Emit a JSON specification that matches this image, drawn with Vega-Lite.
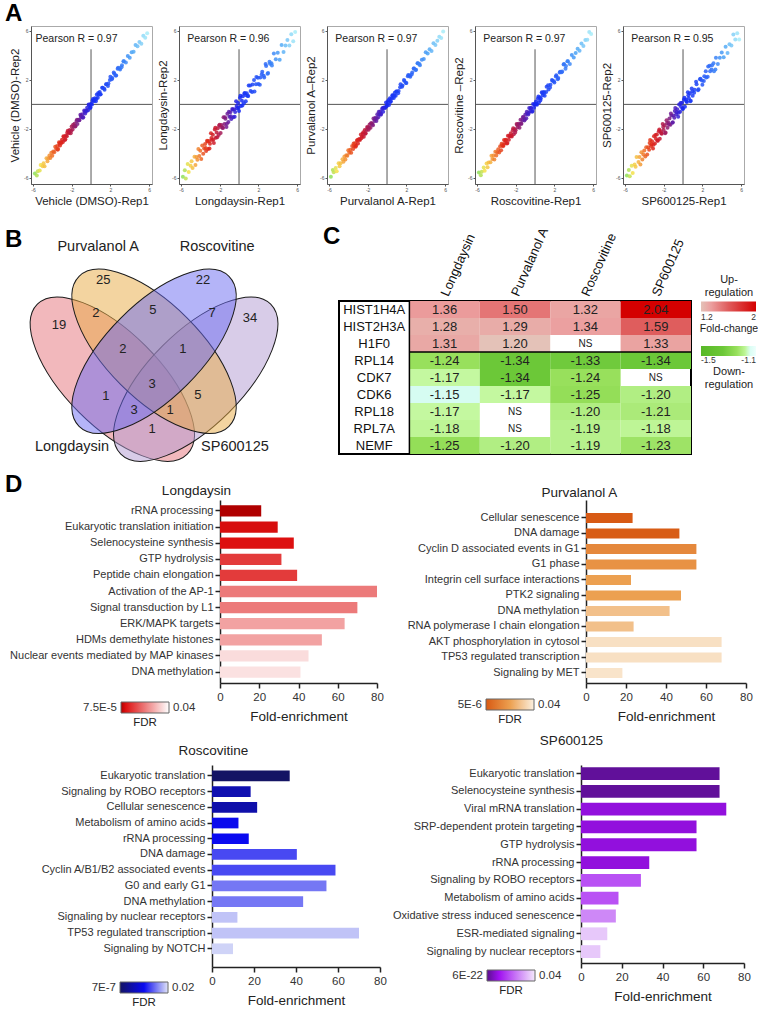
{
"$schema": "https://vega.github.io/schema/vega-lite/v6.json",
"padding": {"left": 5, "top": 1, "right": 0, "bottom": 0},
"background": "white",
"config": {
  "font": "Liberation Sans",
  "locale": {"number": {"decimal": ".", "thousands": ",", "grouping": [3], "currency": ["$", ""], "minus": "-"}},
  "view": {"stroke": null},
  "axis": {"grid": false, "titleFontWeight": "normal", "labelColor": "#333333", "titleColor": "#222222"},
  "title": {"fontWeight": "normal", "color": "#222222"},
  "legend": {"titleFontWeight": "normal", "labelColor": "#333333", "titleColor": "#222222"}
},
"datasets": {
  "scatter": [
{"x":-5.8,"a":-5.65,"b":-5.91,"c":-5.9,"d":-5.56,"e":-5.8},
{"x":-5.6,"a":-5.8,"b":-5.38,"c":-5.35,"d":-5.78,"e":-5.36},
{"x":-5.5,"a":-5.45,"b":-6.05,"c":-5.55,"d":-5.5,"e":-5.86},
{"x":-5.3,"a":-5.4,"b":-4.86,"c":-5.2,"d":-5.16,"e":-5.0},
{"x":-5.2,"a":-4.95,"b":-5.53,"c":-5.45,"d":-5.42,"e":-5.6},
{"x":-5.0,"a":-5.05,"b":-5.0,"c":-4.8,"d":-4.82,"e":-4.9},
{"x":-4.9,"a":-4.8,"b":-4.64,"c":-5.05,"d":-5.14,"e":-5.1},
{"x":-4.8,"a":-5.05,"b":-5.2,"c":-4.8,"d":-4.74,"e":-4.3},
{"x":-4.6,"a":-4.4,"b":-4.27,"c":-4.48,"d":-4.72,"e":-4.7},
{"x":-4.5,"a":-4.65,"b":-4.94,"c":-4.68,"d":-4.2,"e":-4.3},
{"x":-4.4,"a":-4.4,"b":-4.29,"c":-4.25,"d":-4.46,"e":-4.9},
{"x":-4.3,"a":-4.18,"b":-4.52,"c":-4.5,"d":-4.18,"e":-3.9},
{"x":-4.2,"a":-4.38,"b":-3.65,"c":-4.15,"d":-4.5,"e":-4.5},
{"x":-4.1,"a":-3.95,"b":-4.21,"c":-4.2,"d":-3.86,"e":-4.1},
{"x":-4.0,"a":-4.2,"b":-3.78,"c":-3.75,"d":-4.18,"e":-3.76},
{"x":-3.9,"a":-3.85,"b":-4.45,"c":-3.95,"d":-3.9,"e":-4.26},
{"x":-3.8,"a":-3.9,"b":-3.36,"c":-3.7,"d":-3.66,"e":-3.5},
{"x":-3.7,"a":-3.45,"b":-4.03,"c":-3.95,"d":-3.92,"e":-4.1},
{"x":-3.6,"a":-3.65,"b":-3.6,"c":-3.4,"d":-3.42,"e":-3.5},
{"x":-3.5,"a":-3.4,"b":-3.24,"c":-3.65,"d":-3.74,"e":-3.7},
{"x":-3.4,"a":-3.65,"b":-3.8,"c":-3.4,"d":-3.34,"e":-2.9},
{"x":-3.3,"a":-3.1,"b":-2.97,"c":-3.18,"d":-3.42,"e":-3.4},
{"x":-3.2,"a":-3.35,"b":-3.64,"c":-3.38,"d":-2.9,"e":-3.0},
{"x":-3.1,"a":-3.1,"b":-2.99,"c":-2.95,"d":-3.16,"e":-3.6},
{"x":-3.0,"a":-2.88,"b":-3.22,"c":-3.2,"d":-2.88,"e":-2.6},
{"x":-2.9,"a":-3.08,"b":-2.35,"c":-2.85,"d":-3.2,"e":-3.2},
{"x":-2.8,"a":-2.65,"b":-2.91,"c":-2.9,"d":-2.56,"e":-2.8},
{"x":-2.7,"a":-2.9,"b":-2.48,"c":-2.45,"d":-2.88,"e":-2.46},
{"x":-2.6,"a":-2.55,"b":-3.15,"c":-2.65,"d":-2.6,"e":-2.96},
{"x":-2.5,"a":-2.6,"b":-2.06,"c":-2.4,"d":-2.36,"e":-2.2},
{"x":-2.4,"a":-2.15,"b":-2.73,"c":-2.65,"d":-2.62,"e":-2.8},
{"x":-2.3,"a":-2.35,"b":-2.3,"c":-2.1,"d":-2.12,"e":-2.2},
{"x":-2.2,"a":-2.1,"b":-1.94,"c":-2.35,"d":-2.44,"e":-2.4},
{"x":-2.1,"a":-2.35,"b":-2.5,"c":-2.1,"d":-2.04,"e":-1.6},
{"x":-2.0,"a":-1.8,"b":-1.67,"c":-1.88,"d":-2.12,"e":-2.1},
{"x":-1.9,"a":-2.05,"b":-2.34,"c":-2.08,"d":-1.6,"e":-1.7},
{"x":-1.8,"a":-1.8,"b":-1.69,"c":-1.65,"d":-1.86,"e":-2.3},
{"x":-1.7,"a":-1.58,"b":-1.92,"c":-1.9,"d":-1.58,"e":-1.3},
{"x":-1.6,"a":-1.78,"b":-1.05,"c":-1.55,"d":-1.9,"e":-1.9},
{"x":-1.5,"a":-1.35,"b":-1.61,"c":-1.6,"d":-1.26,"e":-1.5},
{"x":-1.4,"a":-1.6,"b":-1.18,"c":-1.15,"d":-1.58,"e":-1.16},
{"x":-1.3,"a":-1.25,"b":-1.85,"c":-1.35,"d":-1.3,"e":-1.66},
{"x":-1.2,"a":-1.3,"b":-0.76,"c":-1.1,"d":-1.06,"e":-0.9},
{"x":-1.1,"a":-0.85,"b":-1.43,"c":-1.35,"d":-1.32,"e":-1.5},
{"x":-1.0,"a":-1.05,"b":-1.0,"c":-0.8,"d":-0.82,"e":-0.9},
{"x":-0.9,"a":-0.8,"b":-0.64,"c":-1.05,"d":-1.14,"e":-1.1},
{"x":-0.8,"a":-1.05,"b":-1.2,"c":-0.8,"d":-0.74,"e":-0.3},
{"x":-0.7,"a":-0.5,"b":-0.37,"c":-0.58,"d":-0.82,"e":-0.8},
{"x":-0.6,"a":-0.75,"b":-1.04,"c":-0.78,"d":-0.3,"e":-0.4},
{"x":-0.5,"a":-0.5,"b":-0.39,"c":-0.35,"d":-0.56,"e":-1.0},
{"x":-0.4,"a":-0.28,"b":-0.62,"c":-0.6,"d":-0.28,"e":0.0},
{"x":-0.3,"a":-0.48,"b":0.25,"c":-0.25,"d":-0.6,"e":-0.6},
{"x":-0.2,"a":-0.05,"b":-0.31,"c":-0.3,"d":0.04,"e":-0.2},
{"x":-0.1,"a":-0.3,"b":0.12,"c":0.15,"d":-0.28,"e":0.14},
{"x":0.0,"a":0.05,"b":-0.55,"c":-0.05,"d":0.0,"e":-0.36},
{"x":0.1,"a":0.0,"b":0.54,"c":0.2,"d":0.24,"e":0.4},
{"x":0.2,"a":0.45,"b":-0.13,"c":-0.05,"d":-0.02,"e":-0.2},
{"x":0.3,"a":0.25,"b":0.3,"c":0.5,"d":0.48,"e":0.4},
{"x":0.4,"a":0.5,"b":0.66,"c":0.25,"d":0.16,"e":0.2},
{"x":0.5,"a":0.25,"b":0.1,"c":0.5,"d":0.56,"e":1.0},
{"x":0.6,"a":0.8,"b":0.93,"c":0.72,"d":0.48,"e":0.5},
{"x":0.7,"a":0.55,"b":0.26,"c":0.52,"d":1.0,"e":0.9},
{"x":0.8,"a":0.8,"b":0.91,"c":0.95,"d":0.74,"e":0.3},
{"x":0.9,"a":1.02,"b":0.68,"c":0.7,"d":1.02,"e":1.3},
{"x":1.0,"a":0.82,"b":1.55,"c":1.05,"d":0.7,"e":0.7},
{"x":1.2,"a":1.35,"b":1.09,"c":1.1,"d":1.44,"e":1.2},
{"x":1.4,"a":1.2,"b":1.62,"c":1.65,"d":1.22,"e":1.64},
{"x":1.6,"a":1.65,"b":1.05,"c":1.55,"d":1.6,"e":1.24},
{"x":1.8,"a":1.7,"b":2.24,"c":1.9,"d":1.94,"e":2.1},
{"x":2.0,"a":2.25,"b":1.67,"c":1.75,"d":1.78,"e":1.6},
{"x":2.2,"a":2.15,"b":2.2,"c":2.4,"d":2.38,"e":2.3},
{"x":2.4,"a":2.5,"b":2.66,"c":2.25,"d":2.16,"e":2.2},
{"x":2.6,"a":2.35,"b":2.2,"c":2.6,"d":2.66,"e":3.1},
{"x":2.8,"a":3.0,"b":3.13,"c":2.92,"d":2.68,"e":2.7},
{"x":3.0,"a":2.85,"b":2.56,"c":2.82,"d":3.3,"e":3.2},
{"x":3.2,"a":3.2,"b":3.31,"c":3.35,"d":3.14,"e":2.7},
{"x":3.4,"a":3.52,"b":3.18,"c":3.2,"d":3.52,"e":3.8},
{"x":3.6,"a":3.42,"b":4.15,"c":3.65,"d":3.3,"e":3.3},
{"x":3.8,"a":3.95,"b":3.69,"c":3.7,"d":4.04,"e":3.8},
{"x":4.0,"a":3.8,"b":4.22,"c":4.25,"d":3.82,"e":4.24},
{"x":4.2,"a":4.25,"b":3.65,"c":4.15,"d":4.2,"e":3.84},
{"x":4.4,"a":4.3,"b":4.84,"c":4.5,"d":4.54,"e":4.7},
{"x":4.6,"a":4.85,"b":4.27,"c":4.35,"d":4.38,"e":4.2},
{"x":4.8,"a":4.75,"b":4.8,"c":5.0,"d":4.98,"e":4.9},
{"x":5.0,"a":5.1,"b":5.26,"c":4.85,"d":4.76,"e":4.8},
{"x":5.2,"a":4.95,"b":4.8,"c":5.2,"d":5.26,"e":5.7},
{"x":5.4,"a":5.6,"b":5.73,"c":5.52,"d":5.28,"e":5.3},
{"x":5.6,"a":5.45,"b":5.16,"c":5.42,"d":5.9,"e":5.8},
{"x":5.8,"a":5.8,"b":5.91,"c":5.95,"d":5.74,"e":5.3},
{"x":-3.45,"a":-3.7,"b":-3.56,"c":-3.2,"d":-3.21,"e":-3.15},
{"x":-3.25,"a":-3.2,"b":-3.03,"c":-3.45,"d":-3.31,"e":-3.25},
{"x":-3.05,"a":-3.15,"b":-3.6,"c":-2.9,"d":-2.93,"e":-3.29},
{"x":-2.85,"a":-2.6,"b":-2.74,"c":-2.85,"d":-3.15,"e":-2.49},
{"x":-2.65,"a":-2.85,"b":-2.87,"c":-2.77,"d":-2.59,"e":-2.95},
{"x":-2.45,"a":-2.3,"b":-1.9,"c":-2.27,"d":-2.57,"e":-2.05},
{"x":-2.25,"a":-2.25,"b":-2.69,"c":-2.4,"d":-1.95,"e":-2.35},
{"x":-2.05,"a":-2.17,"b":-1.72,"c":-1.85,"d":-2.29,"e":-1.85},
{"x":-1.85,"a":-1.67,"b":-1.85,"c":-1.9,"d":-1.67,"e":-2.35},
{"x":-1.65,"a":-1.8,"b":-1.91,"c":-1.55,"d":-1.65,"e":-1.55},
{"x":-1.45,"a":-1.25,"b":-1.05,"c":-1.7,"d":-1.59,"e":-1.65},
{"x":-1.25,"a":-1.3,"b":-1.58,"c":-1.2,"d":-1.03,"e":-0.75},
{"x":-1.05,"a":-0.95,"b":-0.61,"c":-1.15,"d":-1.23,"e":-1.45},
{"x":-0.85,"a":-1.1,"b":-0.96,"c":-0.6,"d":-0.61,"e":-0.55},
{"x":-0.65,"a":-0.6,"b":-0.43,"c":-0.85,"d":-0.71,"e":-0.65},
{"x":-0.45,"a":-0.55,"b":-1.0,"c":-0.3,"d":-0.33,"e":-0.69},
{"x":-0.25,"a":0.0,"b":-0.14,"c":-0.25,"d":-0.55,"e":0.11},
{"x":-0.05,"a":-0.25,"b":-0.27,"c":-0.17,"d":0.01,"e":-0.35},
{"x":0.15,"a":0.3,"b":0.7,"c":0.33,"d":0.03,"e":0.55},
{"x":0.35,"a":0.35,"b":-0.09,"c":0.2,"d":0.65,"e":0.25},
{"x":0.55,"a":0.43,"b":0.88,"c":0.75,"d":0.31,"e":0.75},
{"x":0.75,"a":0.93,"b":0.75,"c":0.7,"d":0.93,"e":0.25},
{"x":0.95,"a":0.8,"b":0.69,"c":1.05,"d":0.95,"e":1.05},
{"x":1.15,"a":1.35,"b":1.55,"c":0.9,"d":1.01,"e":0.95},
{"x":1.35,"a":1.3,"b":1.02,"c":1.4,"d":1.57,"e":1.85},
{"x":1.55,"a":1.65,"b":1.99,"c":1.45,"d":1.37,"e":1.15},
{"x":1.75,"a":1.5,"b":1.64,"c":2.0,"d":1.99,"e":2.05},
{"x":1.95,"a":2.0,"b":2.17,"c":1.75,"d":1.89,"e":1.95},
{"x":2.15,"a":2.05,"b":1.6,"c":2.3,"d":2.27,"e":1.91},
{"x":2.35,"a":2.6,"b":2.46,"c":2.35,"d":2.05,"e":2.71},
{"x":2.55,"a":2.35,"b":2.33,"c":2.43,"d":2.61,"e":2.25},
{"x":2.75,"a":2.9,"b":3.3,"c":2.93,"d":2.63,"e":3.15},
{"x":2.95,"a":2.95,"b":2.51,"c":2.8,"d":3.25,"e":2.85},
{"x":3.15,"a":3.03,"b":3.48,"c":3.35,"d":2.91,"e":3.35},
{"x":3.35,"a":3.53,"b":3.35,"c":3.3,"d":3.53,"e":2.85}
  ],
  "heat": [
{"gene":"HIST1H4A","cond":"Longdaysin","fc":1.36},{"gene":"HIST1H4A","cond":"Purvalanol A","fc":1.50},{"gene":"HIST1H4A","cond":"Roscovitine","fc":1.32},{"gene":"HIST1H4A","cond":"SP600125","fc":2.04},
{"gene":"HIST2H3A","cond":"Longdaysin","fc":1.28},{"gene":"HIST2H3A","cond":"Purvalanol A","fc":1.29},{"gene":"HIST2H3A","cond":"Roscovitine","fc":1.34},{"gene":"HIST2H3A","cond":"SP600125","fc":1.59},
{"gene":"H1F0","cond":"Longdaysin","fc":1.31},{"gene":"H1F0","cond":"Purvalanol A","fc":1.20},{"gene":"H1F0","cond":"Roscovitine","fc":null},{"gene":"H1F0","cond":"SP600125","fc":1.33},
{"gene":"RPL14","cond":"Longdaysin","fc":-1.24},{"gene":"RPL14","cond":"Purvalanol A","fc":-1.34},{"gene":"RPL14","cond":"Roscovitine","fc":-1.33},{"gene":"RPL14","cond":"SP600125","fc":-1.34},
{"gene":"CDK7","cond":"Longdaysin","fc":-1.17},{"gene":"CDK7","cond":"Purvalanol A","fc":-1.34},{"gene":"CDK7","cond":"Roscovitine","fc":-1.24},{"gene":"CDK7","cond":"SP600125","fc":null},
{"gene":"CDK6","cond":"Longdaysin","fc":-1.15},{"gene":"CDK6","cond":"Purvalanol A","fc":-1.17},{"gene":"CDK6","cond":"Roscovitine","fc":-1.25},{"gene":"CDK6","cond":"SP600125","fc":-1.20},
{"gene":"RPL18","cond":"Longdaysin","fc":-1.17},{"gene":"RPL18","cond":"Purvalanol A","fc":null},{"gene":"RPL18","cond":"Roscovitine","fc":-1.20},{"gene":"RPL18","cond":"SP600125","fc":-1.21},
{"gene":"RPL7A","cond":"Longdaysin","fc":-1.18},{"gene":"RPL7A","cond":"Purvalanol A","fc":null},{"gene":"RPL7A","cond":"Roscovitine","fc":-1.19},{"gene":"RPL7A","cond":"SP600125","fc":-1.18},
{"gene":"NEMF","cond":"Longdaysin","fc":-1.25},{"gene":"NEMF","cond":"Purvalanol A","fc":-1.20},{"gene":"NEMF","cond":"Roscovitine","fc":-1.19},{"gene":"NEMF","cond":"SP600125","fc":-1.23}
  ],
  "genes": [{"gene":"HIST1H4A"},{"gene":"HIST2H3A"},{"gene":"H1F0"},{"gene":"RPL14"},{"gene":"CDK7"},{"gene":"CDK6"},{"gene":"RPL18"},{"gene":"RPL7A"},{"gene":"NEMF"}],
  "venn_sets": [
{"set":"Longdaysin","u":0.35,"v":0.47},
{"set":"Purvalanol A","u":0.5,"v":0.57},
{"set":"Roscovitine","u":0.5,"v":0.57},
{"set":"SP600125","u":0.65,"v":0.47}
  ],
  "venn_counts": [
{"n":25,"u":0.317,"v":0.826},{"n":22,"u":0.676,"v":0.826},{"n":19,"u":0.158,"v":0.664},{"n":34,"u":0.845,"v":0.690},
{"n":2,"u":0.291,"v":0.708},{"n":5,"u":0.496,"v":0.718},{"n":7,"u":0.709,"v":0.708},
{"n":2,"u":0.388,"v":0.578},{"n":1,"u":0.604,"v":0.578},{"n":3,"u":0.493,"v":0.452},
{"n":1,"u":0.327,"v":0.409},{"n":5,"u":0.658,"v":0.413},{"n":3,"u":0.428,"v":0.359},
{"n":1,"u":0.558,"v":0.359},{"n":1,"u":0.493,"v":0.290}
  ],
  "venn_labels": [
{"set":"Purvalanol A","u":0.299,"v":0.945},{"set":"Roscovitine","u":0.727,"v":0.945},
{"set":"Longdaysin","u":0.205,"v":0.225},{"set":"SP600125","u":0.791,"v":0.225}
  ],
  "bars": [
{"drug":"Longdaysin","term":"rRNA processing","fe":21,"fdr":0.000075},
{"drug":"Longdaysin","term":"Eukaryotic translation initiation","fe":29.4,"fdr":0.0035},
{"drug":"Longdaysin","term":"Selenocysteine synthesis","fe":37.6,"fdr":0.004},
{"drug":"Longdaysin","term":"GTP hydrolysis","fe":31.3,"fdr":0.0105},
{"drug":"Longdaysin","term":"Peptide chain elongation","fe":39.3,"fdr":0.0105},
{"drug":"Longdaysin","term":"Activation of the AP-1","fe":80,"fdr":0.0199},
{"drug":"Longdaysin","term":"Signal transduction by L1","fe":70,"fdr":0.0199},
{"drug":"Longdaysin","term":"ERK/MAPK targets","fe":63.5,"fdr":0.026},
{"drug":"Longdaysin","term":"HDMs demethylate histones","fe":51.9,"fdr":0.026},
{"drug":"Longdaysin","term":"Nuclear events mediated by MAP kinases","fe":45.1,"fdr":0.0347},
{"drug":"Longdaysin","term":"DNA methylation","fe":41,"fdr":0.0355},
{"drug":"Purvalanol A","term":"Cellular senescence","fe":23.3,"fdr":0.000005},
{"drug":"Purvalanol A","term":"DNA damage","fe":46.7,"fdr":0.0005},
{"drug":"Purvalanol A","term":"Cyclin D associated events in G1","fe":55.2,"fdr":0.0132},
{"drug":"Purvalanol A","term":"G1 phase","fe":55.2,"fdr":0.016},
{"drug":"Purvalanol A","term":"Integrin cell surface interactions","fe":22.5,"fdr":0.02},
{"drug":"Purvalanol A","term":"PTK2 signaling","fe":47.5,"fdr":0.02},
{"drug":"Purvalanol A","term":"DNA methylation","fe":41.8,"fdr":0.028},
{"drug":"Purvalanol A","term":"RNA polymerase I chain elongation","fe":23.8,"fdr":0.028},
{"drug":"Purvalanol A","term":"AKT phosphorylation in cytosol","fe":67.8,"fdr":0.036},
{"drug":"Purvalanol A","term":"TP53 regulated transcription","fe":67.8,"fdr":0.036},
{"drug":"Purvalanol A","term":"Signaling by MET","fe":18.2,"fdr":0.037},
{"drug":"Roscovitine","term":"Eukaryotic translation","fe":37,"fdr":0.0000007},
{"drug":"Roscovitine","term":"Signaling by ROBO receptors","fe":18.4,"fdr":0.0054},
{"drug":"Roscovitine","term":"Cellular senescence","fe":21.5,"fdr":0.005},
{"drug":"Roscovitine","term":"Metabolism of amino acids","fe":12.6,"fdr":0.0098},
{"drug":"Roscovitine","term":"rRNA processing","fe":17.5,"fdr":0.01},
{"drug":"Roscovitine","term":"DNA damage","fe":40.4,"fdr":0.0129},
{"drug":"Roscovitine","term":"Cyclin A/B1/B2 associated events","fe":58.8,"fdr":0.0129},
{"drug":"Roscovitine","term":"G0 and early G1","fe":54.5,"fdr":0.015},
{"drug":"Roscovitine","term":"DNA methylation","fe":43.4,"fdr":0.015},
{"drug":"Roscovitine","term":"Signaling by nuclear receptors","fe":12.1,"fdr":0.0185},
{"drug":"Roscovitine","term":"TP53 regulated transcription","fe":70,"fdr":0.0185},
{"drug":"Roscovitine","term":"Signaling by NOTCH","fe":10,"fdr":0.0192},
{"drug":"SP600125","term":"Eukaryotic translation","fe":68,"fdr":0.001},
{"drug":"SP600125","term":"Selenocysteine synthesis","fe":68,"fdr":0.001},
{"drug":"SP600125","term":"Viral mRNA translation","fe":71.3,"fdr":0.008},
{"drug":"SP600125","term":"SRP-dependent protein targeting","fe":56.7,"fdr":0.008},
{"drug":"SP600125","term":"GTP hydrolysis","fe":56.7,"fdr":0.008},
{"drug":"SP600125","term":"rRNA processing","fe":33.5,"fdr":0.008},
{"drug":"SP600125","term":"Signaling by ROBO receptors","fe":29.4,"fdr":0.019},
{"drug":"SP600125","term":"Metabolism of amino acids","fe":18.4,"fdr":0.019},
{"drug":"SP600125","term":"Oxidative stress induced senescence","fe":17.1,"fdr":0.0266},
{"drug":"SP600125","term":"ESR-mediated signaling","fe":12.9,"fdr":0.0355},
{"drug":"SP600125","term":"Signaling by nuclear receptors","fe":9.5,"fdr":0.0355}
  ]
},
"columns": 1,
"spacing": 17,
"align": "none",
"resolve": {"scale": {"color": "independent"}},
"concat": [
{
  "title": {"text": "A", "anchor": "start", "fontSize": 24, "fontWeight": "bold", "color": "#000000", "offset": 0},
  "spacing": 0,
  "align": "none",
  "resolve": {"scale": {"color": "independent"}},
  "concat": [
    {"width": 4, "height": 1, "data": {"values": []}, "mark": {"type": "point"}},
    {
    "spacing": 4,
    "align": "none",
    "resolve": {"scale": {"color": "independent"}},
    "concat": [
    {"width": 121, "height": 158, "view": {"stroke": "#aaaaaa"}, "data": {"name": "scatter"},
     "layer": [
      {"data": {"values": [{}]}, "mark": {"type": "rule", "color": "#555555", "strokeWidth": 1}, "encoding": {"y": {"datum": 0, "type": "quantitative"}}},
      {"data": {"values": [{}]}, "mark": {"type": "rule", "color": "#555555", "strokeWidth": 1}, "encoding": {"x": {"datum": 0, "type": "quantitative"}, "y": {"datum": 4.5, "type": "quantitative"}, "y2": {"datum": -6.5}}},
      {"mark": {"type": "circle", "size": 16, "opacity": 0.85},
       "encoding": {
        "x": {"field": "x", "type": "quantitative", "scale": {"domain": [-6.2, 6.3], "nice": false, "zero": false}, "axis": {"title": "Vehicle (DMSO)-Rep1", "values": [-6,-4,-2,0,2,4,6], "labelFontSize": 5, "tickSize": 2, "labelPadding": 1, "titlePadding": 3, "titleFontSize": 11.5, "domainColor": "#555555", "tickColor": "#555555", "labelColor": "#555555", "labelFlush": false}},
        "y": {"field": "a", "type": "quantitative", "scale": {"domain": [-6.5, 6.4], "nice": false, "zero": false}, "axis": {"title": "Vehicle (DMSO)-Rep2", "values": [-6,-4,-2,0,2,4,6], "labelFontSize": 5, "tickSize": 2, "labelPadding": 1, "titlePadding": 3, "titleFontSize": 11.5, "domainColor": "#555555", "tickColor": "#555555", "labelColor": "#555555", "labelFlush": false}},
        "color": {"field": "x", "type": "quantitative", "scale": {"domain": [-5.8,-5.2,-4.6,-4.0,-3.2,-2.4,-1.6,-0.8,0,2.5,4.2,5.8], "range": ["#8fe05a","#f5e04a","#f5b040","#ee7028","#e02818","#c81830","#8e1c70","#4a1cc0","#1428f4","#2a62f8","#4aa2f6","#a8ecf8"], "interpolate": "rgb"}, "legend": null}}},
      {"data": {"values": [{}]}, "mark": {"type": "text", "fontSize": 10.5, "color": "#222222"}, "encoding": {"x": {"datum": -1.5, "type": "quantitative"}, "y": {"datum": 5.3, "type": "quantitative"}, "text": {"value": "Pearson R = 0.97"}}}
     ]},
    {"width": 121, "height": 158, "view": {"stroke": "#aaaaaa"}, "data": {"name": "scatter"},
     "layer": [
      {"data": {"values": [{}]}, "mark": {"type": "rule", "color": "#555555", "strokeWidth": 1}, "encoding": {"y": {"datum": 0, "type": "quantitative"}}},
      {"data": {"values": [{}]}, "mark": {"type": "rule", "color": "#555555", "strokeWidth": 1}, "encoding": {"x": {"datum": 0, "type": "quantitative"}, "y": {"datum": 4.5, "type": "quantitative"}, "y2": {"datum": -6.5}}},
      {"mark": {"type": "circle", "size": 16, "opacity": 0.85},
       "encoding": {
        "x": {"field": "x", "type": "quantitative", "scale": {"domain": [-6.2, 6.3], "nice": false, "zero": false}, "axis": {"title": "Longdaysin-Rep1", "values": [-6,-4,-2,0,2,4,6], "labelFontSize": 5, "tickSize": 2, "labelPadding": 1, "titlePadding": 3, "titleFontSize": 11.5, "domainColor": "#555555", "tickColor": "#555555", "labelColor": "#555555", "labelFlush": false}},
        "y": {"field": "b", "type": "quantitative", "scale": {"domain": [-6.5, 6.4], "nice": false, "zero": false}, "axis": {"title": "Longdaysin-Rep2", "values": [-6,-4,-2,0,2,4,6], "labelFontSize": 5, "tickSize": 2, "labelPadding": 1, "titlePadding": 3, "titleFontSize": 11.5, "domainColor": "#555555", "tickColor": "#555555", "labelColor": "#555555", "labelFlush": false}},
        "color": {"field": "x", "type": "quantitative", "scale": {"domain": [-5.8,-5.2,-4.6,-4.0,-3.2,-2.4,-1.6,-0.8,0,2.5,4.2,5.8], "range": ["#8fe05a","#f5e04a","#f5b040","#ee7028","#e02818","#c81830","#8e1c70","#4a1cc0","#1428f4","#2a62f8","#4aa2f6","#a8ecf8"], "interpolate": "rgb"}, "legend": null}}},
      {"data": {"values": [{}]}, "mark": {"type": "text", "fontSize": 10.5, "color": "#222222"}, "encoding": {"x": {"datum": -1.1, "type": "quantitative"}, "y": {"datum": 5.3, "type": "quantitative"}, "text": {"value": "Pearson R = 0.96"}}}
     ]},
    {"width": 121, "height": 158, "view": {"stroke": "#aaaaaa"}, "data": {"name": "scatter"},
     "layer": [
      {"data": {"values": [{}]}, "mark": {"type": "rule", "color": "#555555", "strokeWidth": 1}, "encoding": {"y": {"datum": 0, "type": "quantitative"}}},
      {"data": {"values": [{}]}, "mark": {"type": "rule", "color": "#555555", "strokeWidth": 1}, "encoding": {"x": {"datum": 0, "type": "quantitative"}, "y": {"datum": 4.5, "type": "quantitative"}, "y2": {"datum": -6.5}}},
      {"mark": {"type": "circle", "size": 16, "opacity": 0.85},
       "encoding": {
        "x": {"field": "x", "type": "quantitative", "scale": {"domain": [-6.2, 6.3], "nice": false, "zero": false}, "axis": {"title": "Purvalanol A-Rep1", "values": [-6,-4,-2,0,2,4,6], "labelFontSize": 5, "tickSize": 2, "labelPadding": 1, "titlePadding": 3, "titleFontSize": 11.5, "domainColor": "#555555", "tickColor": "#555555", "labelColor": "#555555", "labelFlush": false}},
        "y": {"field": "c", "type": "quantitative", "scale": {"domain": [-6.5, 6.4], "nice": false, "zero": false}, "axis": {"title": "Purvalanol A–Rep2", "values": [-6,-4,-2,0,2,4,6], "labelFontSize": 5, "tickSize": 2, "labelPadding": 1, "titlePadding": 3, "titleFontSize": 11.5, "domainColor": "#555555", "tickColor": "#555555", "labelColor": "#555555", "labelFlush": false}},
        "color": {"field": "x", "type": "quantitative", "scale": {"domain": [-5.8,-5.2,-4.6,-4.0,-3.2,-2.4,-1.6,-0.8,0,2.5,4.2,5.8], "range": ["#8fe05a","#f5e04a","#f5b040","#ee7028","#e02818","#c81830","#8e1c70","#4a1cc0","#1428f4","#2a62f8","#4aa2f6","#a8ecf8"], "interpolate": "rgb"}, "legend": null}}},
      {"data": {"values": [{}]}, "mark": {"type": "text", "fontSize": 10.5, "color": "#222222"}, "encoding": {"x": {"datum": -1.1, "type": "quantitative"}, "y": {"datum": 5.3, "type": "quantitative"}, "text": {"value": "Pearson R = 0.97"}}}
     ]},
    {"width": 121, "height": 158, "view": {"stroke": "#aaaaaa"}, "data": {"name": "scatter"},
     "layer": [
      {"data": {"values": [{}]}, "mark": {"type": "rule", "color": "#555555", "strokeWidth": 1}, "encoding": {"y": {"datum": 0, "type": "quantitative"}}},
      {"data": {"values": [{}]}, "mark": {"type": "rule", "color": "#555555", "strokeWidth": 1}, "encoding": {"x": {"datum": 0, "type": "quantitative"}, "y": {"datum": 4.5, "type": "quantitative"}, "y2": {"datum": -6.5}}},
      {"mark": {"type": "circle", "size": 16, "opacity": 0.85},
       "encoding": {
        "x": {"field": "x", "type": "quantitative", "scale": {"domain": [-6.2, 6.3], "nice": false, "zero": false}, "axis": {"title": "Roscovitine-Rep1", "values": [-6,-4,-2,0,2,4,6], "labelFontSize": 5, "tickSize": 2, "labelPadding": 1, "titlePadding": 3, "titleFontSize": 11.5, "domainColor": "#555555", "tickColor": "#555555", "labelColor": "#555555", "labelFlush": false}},
        "y": {"field": "d", "type": "quantitative", "scale": {"domain": [-6.5, 6.4], "nice": false, "zero": false}, "axis": {"title": "Roscovitine –Rep2", "values": [-6,-4,-2,0,2,4,6], "labelFontSize": 5, "tickSize": 2, "labelPadding": 1, "titlePadding": 3, "titleFontSize": 11.5, "domainColor": "#555555", "tickColor": "#555555", "labelColor": "#555555", "labelFlush": false}},
        "color": {"field": "x", "type": "quantitative", "scale": {"domain": [-5.8,-5.2,-4.6,-4.0,-3.2,-2.4,-1.6,-0.8,0,2.5,4.2,5.8], "range": ["#8fe05a","#f5e04a","#f5b040","#ee7028","#e02818","#c81830","#8e1c70","#4a1cc0","#1428f4","#2a62f8","#4aa2f6","#a8ecf8"], "interpolate": "rgb"}, "legend": null}}},
      {"data": {"values": [{}]}, "mark": {"type": "text", "fontSize": 10.5, "color": "#222222"}, "encoding": {"x": {"datum": -1.1, "type": "quantitative"}, "y": {"datum": 5.3, "type": "quantitative"}, "text": {"value": "Pearson R = 0.97"}}}
     ]},
    {"width": 121, "height": 158, "view": {"stroke": "#aaaaaa"}, "data": {"name": "scatter"},
     "layer": [
      {"data": {"values": [{}]}, "mark": {"type": "rule", "color": "#555555", "strokeWidth": 1}, "encoding": {"y": {"datum": 0, "type": "quantitative"}}},
      {"data": {"values": [{}]}, "mark": {"type": "rule", "color": "#555555", "strokeWidth": 1}, "encoding": {"x": {"datum": 0, "type": "quantitative"}, "y": {"datum": 4.5, "type": "quantitative"}, "y2": {"datum": -6.5}}},
      {"mark": {"type": "circle", "size": 16, "opacity": 0.85},
       "encoding": {
        "x": {"field": "x", "type": "quantitative", "scale": {"domain": [-6.2, 6.3], "nice": false, "zero": false}, "axis": {"title": "SP600125-Rep1", "values": [-6,-4,-2,0,2,4,6], "labelFontSize": 5, "tickSize": 2, "labelPadding": 1, "titlePadding": 3, "titleFontSize": 11.5, "domainColor": "#555555", "tickColor": "#555555", "labelColor": "#555555", "labelFlush": false}},
        "y": {"field": "e", "type": "quantitative", "scale": {"domain": [-6.5, 6.4], "nice": false, "zero": false}, "axis": {"title": "SP600125-Rep2", "values": [-6,-4,-2,0,2,4,6], "labelFontSize": 5, "tickSize": 2, "labelPadding": 1, "titlePadding": 3, "titleFontSize": 11.5, "domainColor": "#555555", "tickColor": "#555555", "labelColor": "#555555", "labelFlush": false}},
        "color": {"field": "x", "type": "quantitative", "scale": {"domain": [-5.8,-5.2,-4.6,-4.0,-3.2,-2.4,-1.6,-0.8,0,2.5,4.2,5.8], "range": ["#8fe05a","#f5e04a","#f5b040","#ee7028","#e02818","#c81830","#8e1c70","#4a1cc0","#1428f4","#2a62f8","#4aa2f6","#a8ecf8"], "interpolate": "rgb"}, "legend": null}}},
      {"data": {"values": [{}]}, "mark": {"type": "text", "fontSize": 10.5, "color": "#222222"}, "encoding": {"x": {"datum": -1.1, "type": "quantitative"}, "y": {"datum": 5.3, "type": "quantitative"}, "text": {"value": "Pearson R = 0.95"}}}
     ]}
    ]
    }
  ]
},
{
  "columns": 1,
  "spacing": 8,
  "align": "none",
  "resolve": {"scale": {"color": "independent"}},
  "concat": [
    {
      "spacing": 22,
      "align": "none",
      "resolve": {"scale": {"color": "independent"}},
      "concat": [
        {
          "width": 295, "height": 161,
          "title": {"text": "B", "anchor": "start", "fontSize": 24, "fontWeight": "bold", "color": "#000000", "offset": -13},
          "encoding": {
            "x": {"field": "u", "type": "quantitative", "scale": {"domain": [-0.036, 1.025], "nice": false, "zero": false}, "axis": null},
            "y": {"field": "v", "type": "quantitative", "scale": {"domain": [0.172, 0.751], "nice": false, "zero": false}, "axis": null}
          },
          "layer": [
            {"data": {"name": "venn_sets"}, "transform": [{"filter": "datum.set == 'Longdaysin'"}],
             "mark": {"type": "point", "shape": "M0,-1 C0.2449,-1 0.4434,-0.5523 0.4434,0 C0.4434,0.5523 0.2449,1 0,1 C-0.2449,1 -0.4434,0.5523 -0.4434,0 C-0.4434,-0.5523 -0.2449,-1 0,-1 Z", "size": 44944, "filled": true, "opacity": 1, "fillOpacity": 0.5, "stroke": "#1a1a1a", "strokeWidth": 1, "strokeOpacity": 1, "angle": -45},
             "encoding": {"color": {"field": "set", "type": "nominal", "scale": {"domain": ["Longdaysin","Purvalanol A","Roscovitine","SP600125"], "range": ["#e57179","#e7a941","#6969f1","#b199d1"]}, "legend": null}}},
            {"data": {"name": "venn_sets"}, "transform": [{"filter": "datum.set == 'SP600125'"}],
             "mark": {"type": "point", "shape": "M0,-1 C0.2449,-1 0.4434,-0.5523 0.4434,0 C0.4434,0.5523 0.2449,1 0,1 C-0.2449,1 -0.4434,0.5523 -0.4434,0 C-0.4434,-0.5523 -0.2449,-1 0,-1 Z", "size": 44944, "filled": true, "opacity": 1, "fillOpacity": 0.5, "stroke": "#1a1a1a", "strokeWidth": 1, "strokeOpacity": 1, "angle": 45},
             "encoding": {"color": {"field": "set", "type": "nominal", "scale": {"domain": ["Longdaysin","Purvalanol A","Roscovitine","SP600125"], "range": ["#e57179","#e7a941","#6969f1","#b199d1"]}, "legend": null}}},
            {"data": {"name": "venn_sets"}, "transform": [{"filter": "datum.set == 'Purvalanol A'"}],
             "mark": {"type": "point", "shape": "M0,-1 C0.2449,-1 0.4434,-0.5523 0.4434,0 C0.4434,0.5523 0.2449,1 0,1 C-0.2449,1 -0.4434,0.5523 -0.4434,0 C-0.4434,-0.5523 -0.2449,-1 0,-1 Z", "size": 44944, "filled": true, "opacity": 1, "fillOpacity": 0.5, "stroke": "#1a1a1a", "strokeWidth": 1, "strokeOpacity": 1, "angle": -45},
             "encoding": {"color": {"field": "set", "type": "nominal", "scale": {"domain": ["Longdaysin","Purvalanol A","Roscovitine","SP600125"], "range": ["#e57179","#e7a941","#6969f1","#b199d1"]}, "legend": null}}},
            {"data": {"name": "venn_sets"}, "transform": [{"filter": "datum.set == 'Roscovitine'"}],
             "mark": {"type": "point", "shape": "M0,-1 C0.2449,-1 0.4434,-0.5523 0.4434,0 C0.4434,0.5523 0.2449,1 0,1 C-0.2449,1 -0.4434,0.5523 -0.4434,0 C-0.4434,-0.5523 -0.2449,-1 0,-1 Z", "size": 44944, "filled": true, "opacity": 1, "fillOpacity": 0.5, "stroke": "#1a1a1a", "strokeWidth": 1, "strokeOpacity": 1, "angle": 45},
             "encoding": {"color": {"field": "set", "type": "nominal", "scale": {"domain": ["Longdaysin","Purvalanol A","Roscovitine","SP600125"], "range": ["#e57179","#e7a941","#6969f1","#b199d1"]}, "legend": null}}},
            {"data": {"name": "venn_counts"}, "mark": {"type": "text", "fontSize": 13, "color": "#222222"}, "encoding": {"text": {"field": "n", "type": "quantitative"}}},
            {"data": {"name": "venn_labels"}, "mark": {"type": "text", "fontSize": 14.5, "color": "#222222"}, "encoding": {"text": {"field": "set", "type": "nominal"}}}
          ]
        },
        {
          "width": 352, "height": 153,
          "title": {"text": "C", "anchor": "start", "fontSize": 24, "fontWeight": "bold", "color": "#000000", "offset": -24, "dx": -16},
          "view": {"stroke": "#000000", "strokeWidth": 2},
          "data": {"name": "heat"},
          "layer": [
            {"transform": [{"filter": "datum.fc > 0"}], "mark": {"type": "rect"},
             "encoding": {
               "x": {"field": "cond", "type": "nominal", "scale": {"domain": ["Gene","Longdaysin","Purvalanol A","Roscovitine","SP600125"], "paddingInner": 0, "paddingOuter": 0}, "axis": {"orient": "top", "title": null, "labelAngle": -66, "labelAlign": "left", "labelBaseline": "middle", "labelFontSize": 13, "labelPadding": 6, "ticks": false, "domain": false, "labelColor": "#111111", "labelExpr": "datum.value == 'Gene' ? '' : datum.value"}},
               "y": {"field": "gene", "type": "nominal", "scale": {"domain": ["HIST1H4A","HIST2H3A","H1F0","RPL14","CDK7","CDK6","RPL18","RPL7A","NEMF"], "paddingInner": 0, "paddingOuter": 0}, "axis": null},
               "color": {"field": "fc", "type": "quantitative", "scale": {"domain": [1.2, 1.35, 1.6, 2.0], "range": ["#e4c2b8", "#eb9e9e", "#df5a5a", "#d40000"], "interpolate": "rgb", "clamp": true},
                 "legend": {"orient": "none", "legendX": 362, "legendY": -27, "direction": "horizontal", "gradientLength": 55, "gradientThickness": 10, "gradientStrokeWidth": 0, "title": ["Up-", "regulation"], "titleOrient": "top", "titleAnchor": "middle", "titleAlign": "center", "titleFontSize": 11, "titleLineHeight": 12.5, "titlePadding": 4, "values": [1.2, 2], "labelFontSize": 8.5, "labelOffset": 1, "labelExpr": "datum.value >= 2 ? '2' : '1.2'"}}
             }},
            {"transform": [{"filter": "datum.fc < 0"}], "mark": {"type": "rect"},
             "encoding": {
               "x": {"field": "cond", "type": "nominal"},
               "y": {"field": "gene", "type": "nominal"},
               "color": {"field": "fc", "type": "quantitative", "scale": {"domain": [-1.5, -1.34, -1.24, -1.17, -1.15, -1.1], "range": ["#58b828", "#6cc838", "#98e05c", "#c4f8a0", "#d6fcf2", "#eefffc"], "interpolate": "rgb", "clamp": true},
                 "legend": {"orient": "none", "legendX": 362, "legendY": 45, "direction": "horizontal", "gradientLength": 55, "gradientThickness": 10, "gradientStrokeWidth": 0, "title": ["Down-", "regulation"], "titleOrient": "bottom", "titleAnchor": "middle", "titleAlign": "center", "titleFontSize": 11, "titleLineHeight": 12.5, "titlePadding": 1, "values": [-1.5, -1.1], "labelFontSize": 8.5, "labelOffset": 0, "labelExpr": "datum.value < -1.3 ? '-1.5' : '-1.1'"}}
             }},
            {"transform": [{"filter": "isValid(datum.fc)"}], "mark": {"type": "text", "fontSize": 13, "color": "#222222"},
             "encoding": {"x": {"field": "cond", "type": "nominal"}, "y": {"field": "gene", "type": "nominal"}, "text": {"field": "fc", "type": "quantitative", "format": ".2f"}}},
            {"transform": [{"filter": "!isValid(datum.fc)"}], "mark": {"type": "text", "fontSize": 10},
             "encoding": {"x": {"field": "cond", "type": "nominal"}, "y": {"field": "gene", "type": "nominal"}, "text": {"value": "NS"},
               "color": {"datum": "NS", "type": "nominal", "scale": {"range": ["#222222"]},
                 "legend": {"orient": "none", "legendX": 361, "legendY": 23, "title": "Fold-change", "titleOrient": "top", "titleAnchor": "middle", "titleFontSize": 10.5, "titlePadding": 0, "symbolOpacity": 0, "symbolSize": 1, "symbolStrokeWidth": 0, "labelFontSize": 1, "labelExpr": "''"}}}},
            {"data": {"name": "genes"}, "mark": {"type": "text", "fontSize": 13, "color": "#111111"},
             "encoding": {"x": {"datum": "Gene", "type": "nominal"}, "y": {"field": "gene", "type": "nominal"}, "text": {"field": "gene", "type": "nominal"}}},
            {"data": {"values": [{}]}, "mark": {"type": "rule", "color": "#000000", "strokeWidth": 1.5},
             "encoding": {"x": {"datum": "Longdaysin", "type": "nominal", "bandPosition": 0}}},
            {"data": {"values": [{}]}, "mark": {"type": "rule", "color": "#000000", "strokeWidth": 1.5},
             "encoding": {"x": {"datum": "Longdaysin", "type": "nominal", "bandPosition": 0}, "x2": {"value": "width"}, "y": {"datum": "RPL14", "type": "nominal", "bandPosition": 0}}}
          ],
          "resolve": {"scale": {"color": "independent"}}
        }
      ]
    },
    {
      "columns": 1,
      "spacing": 4,
      "align": "none",
      "resolve": {"scale": {"color": "independent"}},
      "concat": [
        {
          "title": {"text": "D", "anchor": "start", "fontSize": 24, "fontWeight": "bold", "color": "#000000", "offset": -13},
          "spacing": 0,
          "align": "none",
          "resolve": {"scale": {"color": "independent"}},
          "concat": [
            {"width": 4, "height": 1, "data": {"values": []}, "mark": {"type": "point"}},
            {
            "spacing": 22,
            "align": "none",
            "resolve": {"scale": {"color": "independent"}},
            "concat": [
            {
              "width": 157, "height": 183,
              "title": {"text": "Longdaysin", "fontSize": 13.5, "offset": 3, "frame": "bounds"},
              "data": {"name": "bars"},
              "transform": [{"filter": "datum.drug == 'Longdaysin'"}],
              "mark": {"type": "bar"},
              "encoding": {
                "y": {"field": "term", "type": "nominal", "sort": null, "scale": {"paddingInner": 0.3, "paddingOuter": 0.33}, "axis": {"title": null, "labelFontSize": 11, "labelLimit": 400, "labelPadding": 2, "tickSize": 5, "tickWidth": 1.5, "tickColor": "#222222", "domainColor": "#222222", "domainWidth": 1.5, "labelColor": "#333333"}},
                "x": {"field": "fe", "type": "quantitative", "scale": {"domain": [0, 80], "nice": false}, "axis": {"values": [0,20,40,60,80], "title": "Fold-enrichment", "titleFontSize": 13.5, "titlePadding": 7, "labelFontSize": 11.5, "labelPadding": 3, "tickSize": 5, "tickWidth": 1.5, "tickColor": "#222222", "domainColor": "#222222", "domainWidth": 1.5, "labelColor": "#333333", "labelFlush": false}},
                "color": {"field": "fdr", "type": "quantitative", "scale": {"domain": [0.000075, 0.004, 0.04], "range": ["#b00000", "#dd1010", "#ffffff"], "interpolate": "rgb"},
                  "legend": {"orient": "none", "legendX": -99, "legendY": 202, "direction": "horizontal", "gradientLength": 48, "gradientThickness": 11, "gradientStrokeColor": "#666666", "gradientStrokeWidth": 1, "title": "FDR", "titleOrient": "bottom", "titleAnchor": "middle", "titleFontSize": 11.5, "titlePadding": 3, "values": [0.000075, 0.04], "labelFontSize": 11.5, "labelExpr": "datum.value < 0.001 ? '7.5E-5' : '0.04'",
                    "encode": {"labels": {"update": {"align": {"signal": "datum.perc > 0.5 ? 'left' : 'right'"}, "baseline": {"value": "middle"}, "dx": {"signal": "datum.perc > 0.5 ? 4 : -4"}, "y": {"value": 5.5}}}}}}
              }
            },
            {
              "width": 160, "height": 183,
              "title": {"text": "Purvalanol A", "fontSize": 13.5, "offset": 1, "frame": "bounds"},
              "data": {"name": "bars"},
              "transform": [{"filter": "datum.drug == 'Purvalanol A'"}],
              "mark": {"type": "bar"},
              "encoding": {
                "y": {"field": "term", "type": "nominal", "sort": null, "scale": {"paddingInner": 0.35, "paddingOuter": 0.58, "align": 0.72}, "axis": {"title": null, "labelFontSize": 11, "labelLimit": 400, "labelPadding": 2, "tickSize": 5, "tickWidth": 1.5, "tickColor": "#222222", "domainColor": "#222222", "domainWidth": 1.5, "labelColor": "#333333"}},
                "x": {"field": "fe", "type": "quantitative", "scale": {"domain": [0, 80], "nice": false}, "axis": {"values": [0,20,40,60,80], "title": "Fold-enrichment", "titleFontSize": 13.5, "titlePadding": 7, "labelFontSize": 11.5, "labelPadding": 3, "tickSize": 5, "tickWidth": 1.5, "tickColor": "#222222", "domainColor": "#222222", "domainWidth": 1.5, "labelColor": "#333333", "labelFlush": false}},
                "color": {"field": "fdr", "type": "quantitative", "scale": {"domain": [0.000005, 0.02, 0.04], "range": ["#d85a14", "#eca050", "#fbf0e0"], "interpolate": "rgb"},
                  "legend": {"orient": "none", "legendX": -100, "legendY": 199, "direction": "horizontal", "gradientLength": 48, "gradientThickness": 11, "gradientStrokeColor": "#666666", "gradientStrokeWidth": 1, "title": "FDR", "titleOrient": "bottom", "titleAnchor": "middle", "titleFontSize": 11.5, "titlePadding": 3, "values": [0.000005, 0.04], "labelFontSize": 11.5, "labelExpr": "datum.value < 0.001 ? '5E-6' : '0.04'",
                    "encode": {"labels": {"update": {"align": {"signal": "datum.perc > 0.5 ? 'left' : 'right'"}, "baseline": {"value": "middle"}, "dx": {"signal": "datum.perc > 0.5 ? 4 : -4"}, "y": {"value": 5.5}}}}}}
              }
            }
            ]
            }
          ]
        },
        {
          "spacing": 0,
          "align": "none",
          "resolve": {"scale": {"color": "independent"}},
          "concat": [
            {"width": 35, "height": 1, "data": {"values": []}, "mark": {"type": "point"}},
            {
            "spacing": 5,
            "align": "none",
            "resolve": {"scale": {"color": "independent"}},
            "concat": [
            {
              "width": 168, "height": 202,
              "title": {"text": "Roscovitine", "fontSize": 13.5, "offset": 8, "frame": "bounds"},
              "data": {"name": "bars"},
              "transform": [{"filter": "datum.drug == 'Roscovitine'"}],
              "mark": {"type": "bar"},
              "encoding": {
                "y": {"field": "term", "type": "nominal", "sort": null, "scale": {"paddingInner": 0.32, "paddingOuter": 0.585, "align": 0.3}, "axis": {"title": null, "labelFontSize": 11, "labelLimit": 400, "labelPadding": 2, "tickSize": 5, "tickWidth": 1.5, "tickColor": "#222222", "domainColor": "#222222", "domainWidth": 1.5, "labelColor": "#333333"}},
                "x": {"field": "fe", "type": "quantitative", "scale": {"domain": [0, 80], "nice": false}, "axis": {"values": [0,20,40,60,80], "title": "Fold-enrichment", "titleFontSize": 13.5, "titlePadding": 7, "labelFontSize": 11.5, "labelPadding": 3, "tickSize": 5, "tickWidth": 1.5, "tickColor": "#222222", "domainColor": "#222222", "domainWidth": 1.5, "labelColor": "#333333", "labelFlush": false}},
                "color": {"field": "fdr", "type": "quantitative", "scale": {"domain": [0.0000007, 0.01, 0.02], "range": ["#141464", "#0a0af0", "#e0e4f8"], "interpolate": "rgb"},
                  "legend": {"orient": "none", "legendX": -92, "legendY": 217, "direction": "horizontal", "gradientLength": 48, "gradientThickness": 11, "gradientStrokeColor": "#666666", "gradientStrokeWidth": 1, "title": "FDR", "titleOrient": "bottom", "titleAnchor": "middle", "titleFontSize": 11.5, "titlePadding": 3, "values": [0.0000007, 0.02], "labelFontSize": 11.5, "labelExpr": "datum.value < 0.001 ? '7E-7' : '0.02'",
                    "encode": {"labels": {"update": {"align": {"signal": "datum.perc > 0.5 ? 'left' : 'right'"}, "baseline": {"value": "middle"}, "dx": {"signal": "datum.perc > 0.5 ? 4 : -4"}, "y": {"value": 5.5}}}}}}
              }
            },
            {
              "width": 163, "height": 198,
              "title": {"text": "SP600125", "fontSize": 13.5, "offset": 18, "frame": "bounds"},
              "data": {"name": "bars"},
              "transform": [{"filter": "datum.drug == 'SP600125'"}],
              "mark": {"type": "bar"},
              "encoding": {
                "y": {"field": "term", "type": "nominal", "sort": null, "scale": {"paddingInner": 0.28, "paddingOuter": 0.2, "align": 0.3}, "axis": {"title": null, "labelFontSize": 11, "labelLimit": 400, "labelPadding": 2, "tickSize": 5, "tickWidth": 1.5, "tickColor": "#222222", "domainColor": "#222222", "domainWidth": 1.5, "labelColor": "#333333"}},
                "x": {"field": "fe", "type": "quantitative", "scale": {"domain": [0, 80], "nice": false}, "axis": {"values": [0,20,40,60,80], "title": "Fold-enrichment", "titleFontSize": 13.5, "titlePadding": 7, "labelFontSize": 11.5, "labelPadding": 3, "tickSize": 5, "tickWidth": 1.5, "tickColor": "#222222", "domainColor": "#222222", "domainWidth": 1.5, "labelColor": "#333333", "labelFlush": false}},
                "color": {"field": "fdr", "type": "quantitative", "scale": {"domain": [6e-22, 0.01, 0.04], "range": ["#5a1090", "#a010f0", "#f4e8fc"], "interpolate": "rgb"},
                  "legend": {"orient": "none", "legendX": -94, "legendY": 205, "direction": "horizontal", "gradientLength": 48, "gradientThickness": 11, "gradientStrokeColor": "#666666", "gradientStrokeWidth": 1, "title": "FDR", "titleOrient": "bottom", "titleAnchor": "middle", "titleFontSize": 11.5, "titlePadding": 3, "values": [6e-22, 0.04], "labelFontSize": 11.5, "labelExpr": "datum.value < 0.001 ? '6E-22' : '0.04'",
                    "encode": {"labels": {"update": {"align": {"signal": "datum.perc > 0.5 ? 'left' : 'right'"}, "baseline": {"value": "middle"}, "dx": {"signal": "datum.perc > 0.5 ? 4 : -4"}, "y": {"value": 5.5}}}}}}
              }
            }
            ]
            }
          ]
        }
      ]
    }
  ]
}
]
}
